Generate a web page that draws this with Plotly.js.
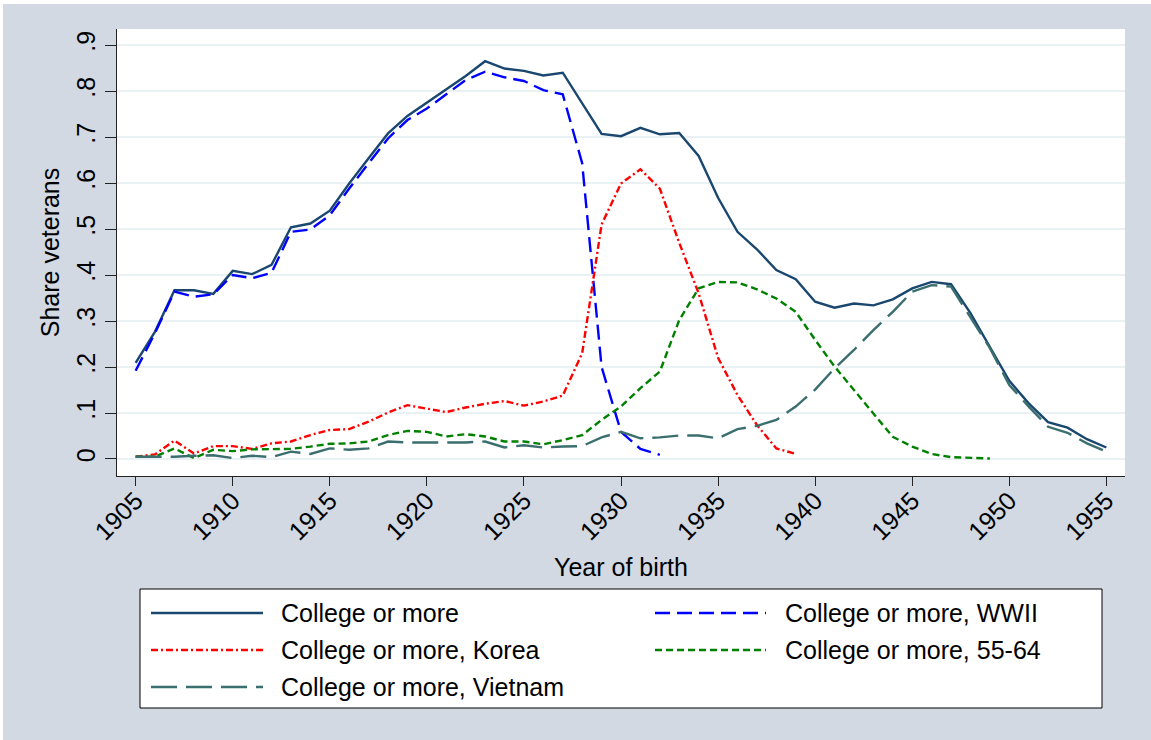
<!DOCTYPE html>
<html>
<head>
<meta charset="utf-8">
<script src="https://cdn.plot.ly/plotly-3.0.1.min.js"></script>
<style>
  html, body { margin: 0; padding: 0; background: #D2D9E3; }
  #chart { width: 1151px; height: 740px; }
</style>
</head>
<body>
<div id="chart"></div>
<script>
// ---------- data ----------
const yearsAll = [1905,1906,1907,1908,1909,1910,1911,1912,1913,1914,1915,1916,1917,1918,1919,1920,
  1921,1922,1923,1924,1925,1926,1927,1928,1929,1930,1931,1932,1933,1934,1935,1936,1937,1938,1939,1940,
  1941,1942,1943,1944,1945,1946,1947,1948,1949,1950,1951,1952,1953,1954,1955];
const yearsWWII = [1905,1906,1907,1908,1909,1910,1911,1912,1913,1914,1915,1916,1917,1918,1919,1920,
  1921,1922,1923,1924,1925,1926,1927,1928,1929,1930,1931,1932];
const yearsKorea = [1905,1906,1907,1908,1909,1910,1911,1912,1913,1914,1915,1916,1917,1918,1919,1920,
  1921,1922,1923,1924,1925,1926,1927,1928,1929,1930,1931,1932,1933,1934,1935,1936,1937,1938,1939];
const years5564 = [1905,1906,1907,1908,1909,1910,1911,1912,1913,1914,1915,1916,1917,1918,1919,1920,
  1921,1922,1923,1924,1925,1926,1927,1928,1929,1930,1931,1932,1933,1934,1935,1936,1937,1938,1939,1940,
  1941,1942,1943,1944,1945,1946,1947,1948,1949];

const collegeAll = [0.209,0.277,0.367,0.367,0.359,0.409,0.402,0.422,0.504,0.512,0.540,0.599,0.654,0.708,
  0.746,0.775,0.804,0.833,0.865,0.849,0.844,0.834,0.840,0.773,0.707,0.702,0.720,0.706,0.709,0.659,0.568,
  0.494,0.456,0.411,0.391,0.342,0.329,0.338,0.334,0.347,0.371,0.385,0.380,0.317,0.244,0.170,0.121,0.080,
  0.068,0.043,0.025];
const collegeWWII = [0.192,0.274,0.364,0.353,0.358,0.400,0.393,0.405,0.494,0.499,0.530,0.588,0.643,0.697,
  0.737,0.762,0.793,0.824,0.842,0.830,0.822,0.802,0.793,0.643,0.200,0.059,0.022,0.009];
const collegeKorea = [0.005,0.010,0.040,0.012,0.028,0.028,0.022,0.034,0.038,0.052,0.063,0.065,0.081,0.101,
  0.117,0.110,0.102,0.112,0.120,0.126,0.116,0.125,0.138,0.230,0.510,0.599,0.630,0.588,0.470,0.360,0.220,
  0.139,0.074,0.023,0.011];
const college5564 = [0.005,0.005,0.023,0.002,0.020,0.017,0.021,0.022,0.022,0.027,0.033,0.034,0.038,0.052,
  0.061,0.059,0.049,0.054,0.049,0.038,0.038,0.032,0.041,0.052,0.085,0.114,0.154,0.190,0.302,0.371,0.385,
  0.384,0.369,0.349,0.320,0.259,0.201,0.150,0.099,0.048,0.027,0.011,0.004,0.003,0.001];
const collegeVietnam = [0.005,0.005,0.005,0.007,0.008,0.002,0.007,0.004,0.016,0.011,0.023,0.020,0.023,0.038,
  0.036,0.036,0.036,0.036,0.038,0.025,0.030,0.025,0.027,0.028,0.047,0.059,0.045,0.047,0.051,0.051,0.045,
  0.065,0.072,0.085,0.114,0.151,0.197,0.237,0.280,0.320,0.364,0.378,0.375,0.309,0.241,0.161,0.114,0.070,
  0.057,0.034,0.016];

const seriesNames = ["College or more", "College or more, WWII", "College or more, Korea",
  "College or more, 55-64", "College or more, Vietnam"];

const xTickVals = [1905,1910,1915,1920,1925,1930,1935,1940,1945,1950,1955];
const xTickText = ["1905","1910","1915","1920","1925","1930","1935","1940","1945","1950","1955"];
const yTickVals = [0,0.1,0.2,0.3,0.4,0.5,0.6,0.7,0.8,0.9];
const yTickText = ["0",".1",".2",".3",".4",".5",".6",".7",".8",".9"];

// ---------- styles ----------
const FONT = "Liberation Sans, Arial, Helvetica, sans-serif";
const FS = 25;
const styles = [
  {color: "#1A476F", dash: "solid"},
  {color: "#0000FF", dash: "15px,7px"},
  {color: "#FF0000", dash: "7px,3px,2px,3px"},
  {color: "#008000", dash: "7px,4px"},
  {color: "#3B6E6E", dash: "26px,9px"}
];
const LW = 2.4;

const xs = [yearsAll, yearsWWII, yearsKorea, years5564, yearsAll];
const ys = [collegeAll, collegeWWII, collegeKorea, college5564, collegeVietnam];

const traces = [0,1,2,3,4].map(i => ({
  type: "scatter", mode: "lines", x: xs[i], y: ys[i], name: seriesNames[i],
  line: {color: styles[i].color, dash: styles[i].dash, width: LW},
  showlegend: false, hoverinfo: "skip"
}));

// ---------- geometry ----------
const W = 1151, H = 740;
const ML = 117, MR = W - 1125, MT = 29, MB = H - 476;
const PW = W - ML - MR, PH = H - MT - MB;
const px = p => (p - ML) / PW;
const py = p => (H - MB - p) / PH;

const shapes = [];
const annotations = [];

// white strips at top and left edges
shapes.push({type: "rect", xref: "paper", yref: "paper", x0: px(0), x1: px(W), y0: py(4), y1: py(-2),
  fillcolor: "#FFFFFF", line: {width: 0}, layer: "below"});
shapes.push({type: "rect", xref: "paper", yref: "paper", x0: px(-2), x1: px(3), y0: py(H + 2), y1: py(-2),
  fillcolor: "#FFFFFF", line: {width: 0}, layer: "below"});

// legend box
shapes.push({type: "rect", xref: "paper", yref: "paper", x0: px(140), x1: px(1102), y0: py(708), y1: py(589),
  fillcolor: "#FFFFFF", line: {color: "#000000", width: 1}, layer: "above"});

const legendPos = [
  {lx0: 151, lx1: 263, tx: 279, y: 613},
  {lx0: 655, lx1: 766, tx: 783, y: 613},
  {lx0: 151, lx1: 263, tx: 279, y: 650},
  {lx0: 655, lx1: 766, tx: 783, y: 650},
  {lx0: 151, lx1: 263, tx: 279, y: 687}
];
legendPos.forEach((p, i) => {
  shapes.push({type: "line", xref: "paper", yref: "paper", x0: px(p.lx0), x1: px(p.lx1), y0: py(p.y), y1: py(p.y),
    line: {color: styles[i].color, dash: styles[i].dash, width: LW}, layer: "above"});
  annotations.push({xref: "paper", yref: "paper", x: px(p.tx), y: py(p.y), xanchor: "left", yanchor: "middle",
    text: seriesNames[i], showarrow: false, font: {family: FONT, size: FS, color: "#000000"}});
});

const layout = {
  width: W, height: H,
  margin: {l: ML, r: MR, t: MT, b: MB, pad: 0},
  paper_bgcolor: "#D2D9E3",
  plot_bgcolor: "#FFFFFF",
  font: {family: FONT, size: FS, color: "#000000"},
  showlegend: false,
  xaxis: {
    range: [1904.04, 1955.96],
    tickvals: xTickVals, ticktext: xTickText, tickangle: -45,
    ticks: "outside", ticklen: 9, tickwidth: 1, tickcolor: "#222222",
    ticklabelstandoff: -10,
    showline: true, linecolor: "#222222", linewidth: 1,
    showgrid: false, zeroline: false,
    tickfont: {family: FONT, size: FS, color: "#000000"},
    title: {text: "Year of birth", font: {family: FONT, size: FS, color: "#000000"}, standoff: 14}
  },
  yaxis: {
    range: [-0.037, 0.935],
    tickvals: yTickVals, ticktext: yTickText, tickangle: -90,
    ticks: "outside", ticklen: 11, tickwidth: 1, tickcolor: "#222222",
    showline: true, linecolor: "#222222", linewidth: 1,
    showgrid: true, gridcolor: "#EAF1F4", gridwidth: 2, zeroline: false,
    tickfont: {family: FONT, size: FS, color: "#000000"},
    title: {text: "Share veterans", font: {family: FONT, size: FS, color: "#000000"}, standoff: 5}
  },
  shapes: shapes,
  annotations: annotations
};

Plotly.newPlot("chart", traces, layout, {staticPlot: true, displayModeBar: false});
</script>
</body>
</html>
